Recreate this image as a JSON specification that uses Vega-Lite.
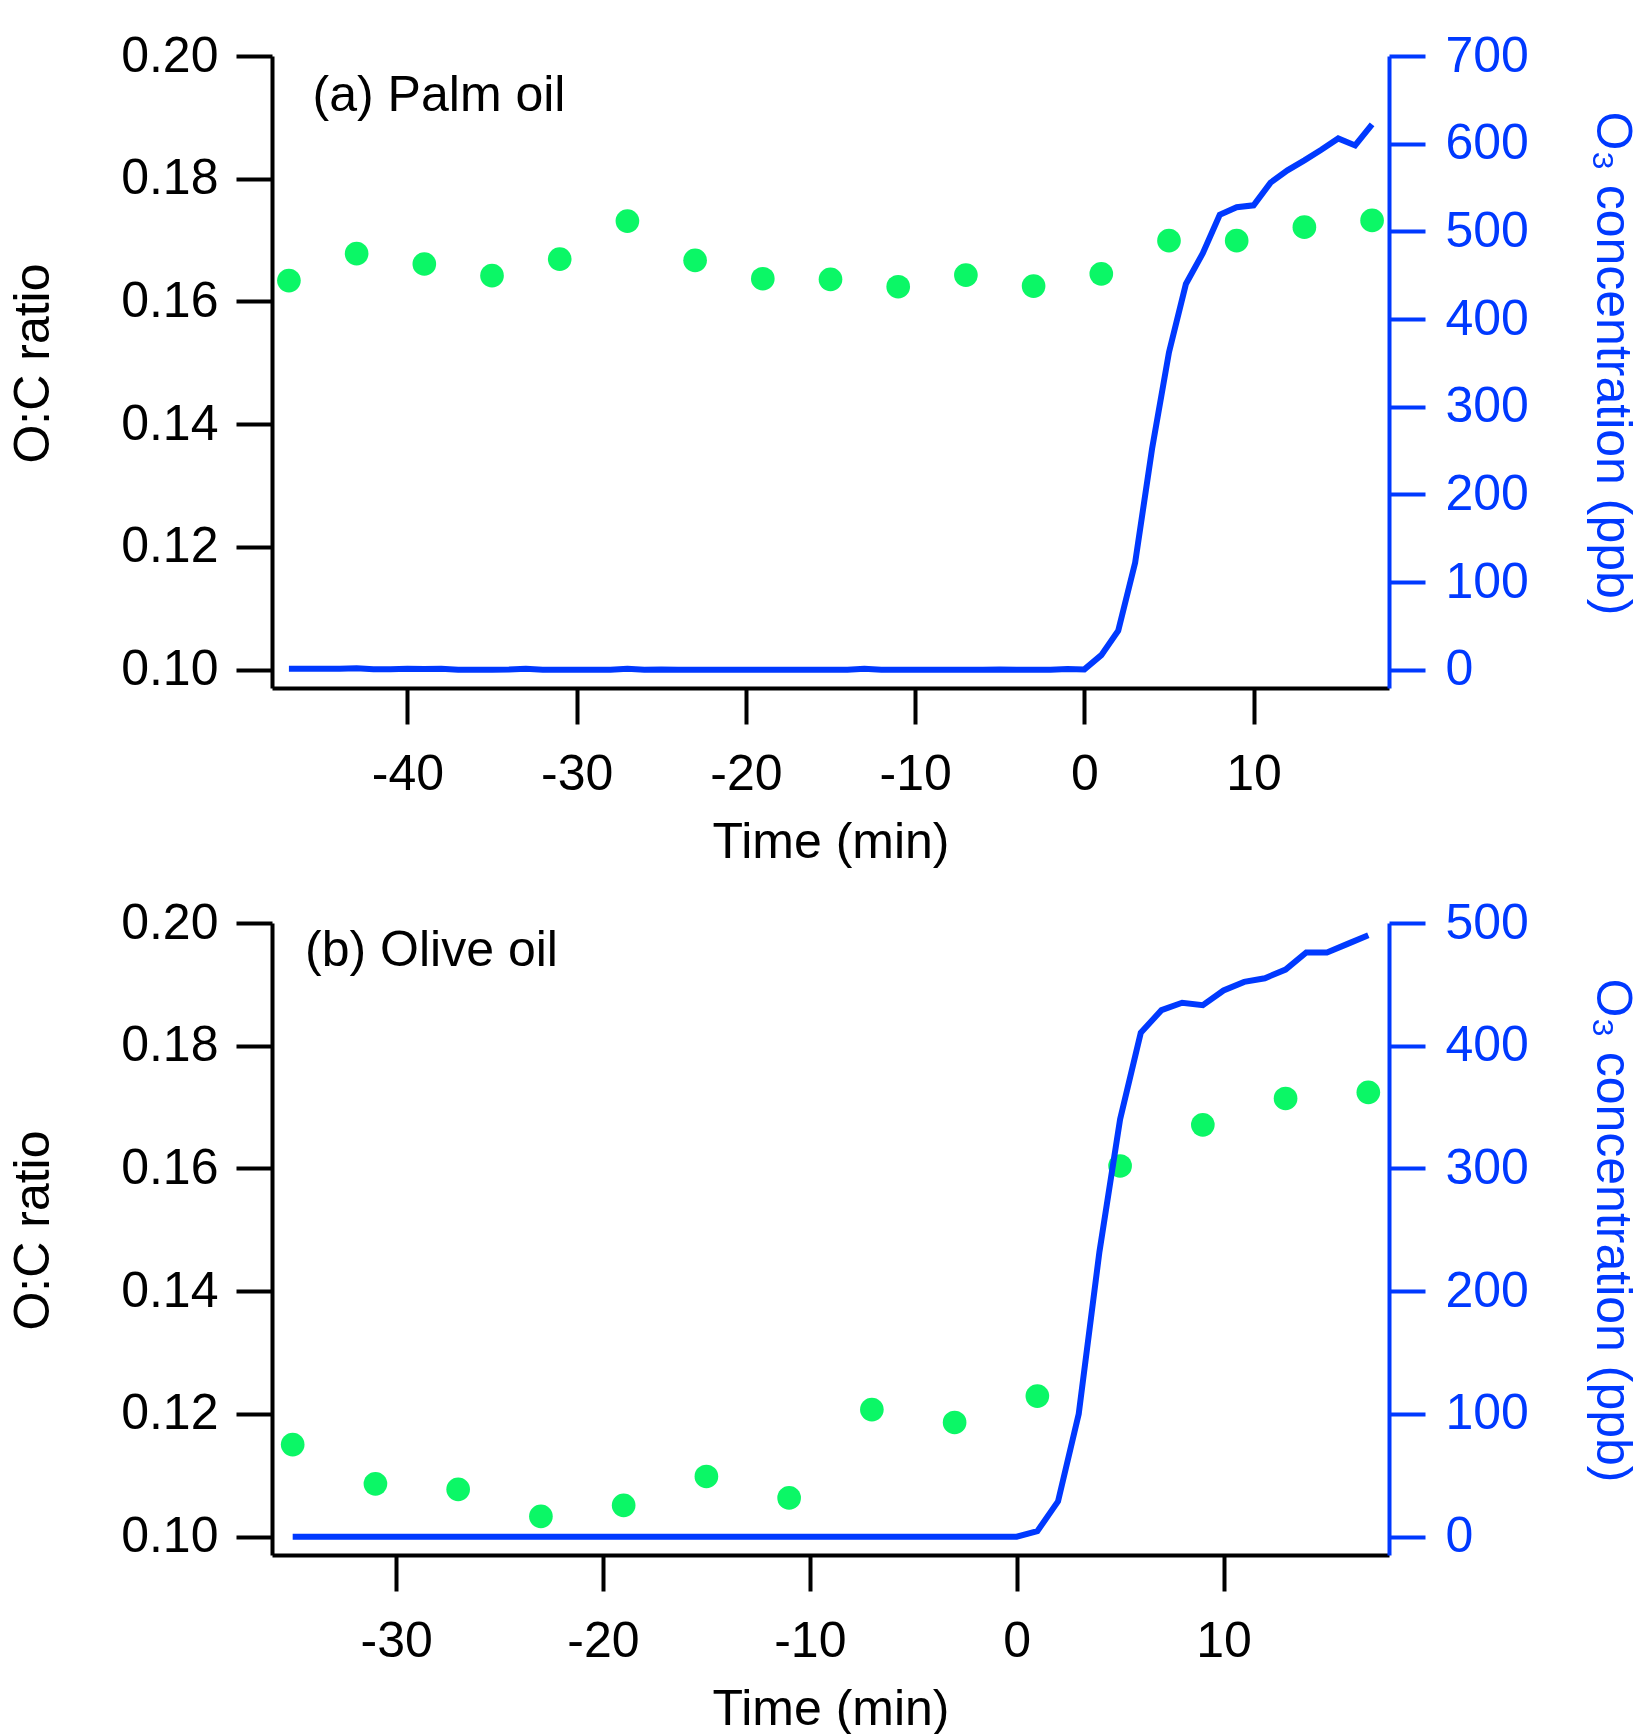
{
  "$schema": "https://vega.github.io/schema/vega-lite/v6.json",
  "description": "O:C ratio (points) and O3 concentration (line) against time for palm oil and olive oil",
  "background": "white",
  "padding": {"left": 8, "top": 31, "right": 0, "bottom": 0},
  "spacing": 235,
  "bounds": "flush",
  "datasets": {
    "oc_palm": [
      {"time": -47, "oc": 0.1634}, {"time": -43, "oc": 0.1678}, {"time": -39, "oc": 0.1661},
      {"time": -35, "oc": 0.1642}, {"time": -31, "oc": 0.1669}, {"time": -27, "oc": 0.1731},
      {"time": -23, "oc": 0.1667}, {"time": -19, "oc": 0.1637}, {"time": -15, "oc": 0.1636},
      {"time": -11, "oc": 0.1624}, {"time": -7, "oc": 0.1643}, {"time": -3, "oc": 0.1625},
      {"time": 1, "oc": 0.1645}, {"time": 5, "oc": 0.1699}, {"time": 9, "oc": 0.1699},
      {"time": 13, "oc": 0.1721}, {"time": 17, "oc": 0.1732}
    ],
    "o3_palm": [
      {"time": -47, "o3": 1}, {"time": -46, "o3": 1}, {"time": -45, "o3": 1}, {"time": -44, "o3": 1},
      {"time": -43, "o3": 1.5}, {"time": -42, "o3": 0.6}, {"time": -41, "o3": 0.6}, {"time": -40, "o3": 1},
      {"time": -39, "o3": 0.8}, {"time": -38, "o3": 1}, {"time": -37, "o3": 0}, {"time": -36, "o3": 0},
      {"time": -35, "o3": 0}, {"time": -34, "o3": 0.2}, {"time": -33, "o3": 1}, {"time": -32, "o3": 0},
      {"time": -31, "o3": 0}, {"time": -30, "o3": 0}, {"time": -29, "o3": 0}, {"time": -28, "o3": 0},
      {"time": -27, "o3": 1}, {"time": -26, "o3": 0}, {"time": -25, "o3": 0.3}, {"time": -24, "o3": 0},
      {"time": -23, "o3": 0}, {"time": -22, "o3": 0}, {"time": -21, "o3": 0}, {"time": -20, "o3": 0},
      {"time": -19, "o3": 0}, {"time": -18, "o3": 0}, {"time": -17, "o3": 0}, {"time": -16, "o3": 0},
      {"time": -15, "o3": 0}, {"time": -14, "o3": 0}, {"time": -13, "o3": 1}, {"time": -12, "o3": 0},
      {"time": -11, "o3": 0}, {"time": -10, "o3": 0}, {"time": -9, "o3": 0}, {"time": -8, "o3": 0},
      {"time": -7, "o3": 0}, {"time": -6, "o3": 0}, {"time": -5, "o3": 0.3}, {"time": -4, "o3": 0},
      {"time": -3, "o3": 0}, {"time": -2, "o3": 0}, {"time": -1, "o3": 0.8}, {"time": 0, "o3": 0.3},
      {"time": 1, "o3": 16.6}, {"time": 2, "o3": 44.5}, {"time": 3, "o3": 122}, {"time": 4, "o3": 252},
      {"time": 5, "o3": 362}, {"time": 6, "o3": 440}, {"time": 7, "o3": 475}, {"time": 8, "o3": 519},
      {"time": 9, "o3": 527.5}, {"time": 10, "o3": 529.7}, {"time": 11, "o3": 555.5}, {"time": 12, "o3": 569.6},
      {"time": 13, "o3": 581}, {"time": 14, "o3": 593}, {"time": 15, "o3": 606}, {"time": 16, "o3": 598},
      {"time": 17, "o3": 622}
    ],
    "oc_olive": [
      {"time": -35, "oc": 0.1150}, {"time": -31, "oc": 0.1086}, {"time": -27, "oc": 0.1077},
      {"time": -23, "oc": 0.1033}, {"time": -19, "oc": 0.1051}, {"time": -15, "oc": 0.1098},
      {"time": -11, "oc": 0.1063}, {"time": -7, "oc": 0.1207}, {"time": -3, "oc": 0.1186},
      {"time": 1, "oc": 0.1229}, {"time": 5, "oc": 0.1604}, {"time": 9, "oc": 0.1671},
      {"time": 13, "oc": 0.1714}, {"time": 17, "oc": 0.1724}
    ],
    "o3_olive": [
      {"time": -35, "o3": 0}, {"time": -30, "o3": 0}, {"time": -25, "o3": 0}, {"time": -20, "o3": 0},
      {"time": -15, "o3": 0}, {"time": -10, "o3": 0}, {"time": -5, "o3": 0}, {"time": 0, "o3": 0},
      {"time": 1, "o3": 4.5}, {"time": 2, "o3": 28.8}, {"time": 3, "o3": 100}, {"time": 4, "o3": 232},
      {"time": 5, "o3": 340}, {"time": 6, "o3": 410.6}, {"time": 7, "o3": 429}, {"time": 8, "o3": 435},
      {"time": 9, "o3": 433}, {"time": 10, "o3": 445}, {"time": 11, "o3": 452}, {"time": 12, "o3": 455},
      {"time": 13, "o3": 462}, {"time": 14, "o3": 476}, {"time": 15, "o3": 476}, {"time": 16, "o3": 483},
      {"time": 17, "o3": 490}
    ],
    "label_palm": [{"time": -45.6, "oc": 0.1911, "label": "(a) Palm oil"}],
    "label_olive": [{"time": -34.4, "oc": 0.1930, "label": "(b) Olive oil"}]
  },
  "vconcat": [
    {
      "width": 1117,
      "height": 632,
      "layer": [
        {
          "data": {"name": "oc_palm"},
          "mark": {"type": "circle", "size": 560, "color": "#0BF766", "opacity": 1},
          "encoding": {
            "x": {
              "field": "time", "type": "quantitative",
              "scale": {"domain": [-48, 18], "nice": false, "zero": false},
              "axis": {
                "values": [-40, -30, -20, -10, 0, 10],
                "labelExpr": "toString(datum.value)",
                "title": "Time (min)",
                "labelBaseline": "alphabetic", "labelPadding": 65,
                "titleBaseline": "alphabetic", "titleY": 169
              }
            },
            "y": {
              "field": "oc", "type": "quantitative",
              "scale": {"domain": [0.097, 0.2], "nice": false, "zero": false},
              "axis": {
                "orient": "left",
                "values": [0.1, 0.12, 0.14, 0.16, 0.18, 0.2],
                "format": ".2f",
                "title": "O:C ratio",
                "labelPadding": 18,
                "titleAngle": -90, "titleAlign": "center", "titleBaseline": "alphabetic",
                "titleX": -224, "titleY": 307
              }
            }
          }
        },
        {
          "data": {"name": "label_palm"},
          "mark": {"type": "text", "align": "left", "baseline": "alphabetic", "fontSize": 50, "color": "black"},
          "encoding": {
            "x": {"field": "time", "type": "quantitative", "scale": {"domain": [-48, 18], "nice": false, "zero": false}},
            "y": {"field": "oc", "type": "quantitative", "scale": {"domain": [0.097, 0.2], "nice": false, "zero": false}, "axis": null},
            "text": {"field": "label"}
          }
        },
        {
          "data": {"name": "o3_palm"},
          "mark": {"type": "line", "color": "#0039FF", "strokeWidth": 6},
          "encoding": {
            "x": {"field": "time", "type": "quantitative", "scale": {"domain": [-48, 18], "nice": false, "zero": false}},
            "y": {
              "field": "o3", "type": "quantitative",
              "scale": {"domain": [-20.9, 700], "nice": false, "zero": false},
              "axis": {
                "orient": "right",
                "values": [0, 100, 200, 300, 400, 500, 600, 700],
                "title": "O₃ concentration (ppb)",
                "domainColor": "#0039FF", "tickColor": "#0039FF",
                "labelColor": "#0039FF", "titleColor": "#0039FF",
                "labelPadding": 20,
                "titleAngle": 90, "titleAlign": "center", "titleBaseline": "alphabetic",
                "titleX": 207, "titleY": 307
              }
            }
          }
        }
      ],
      "resolve": {"scale": {"y": "independent"}, "axis": {"y": "independent"}}
    },
    {
      "width": 1117,
      "height": 632,
      "layer": [
        {
          "data": {"name": "oc_olive"},
          "mark": {"type": "circle", "size": 560, "color": "#0BF766", "opacity": 1},
          "encoding": {
            "x": {
              "field": "time", "type": "quantitative",
              "scale": {"domain": [-36, 18], "nice": false, "zero": false},
              "axis": {
                "values": [-30, -20, -10, 0, 10],
                "labelExpr": "toString(datum.value)",
                "title": "Time (min)",
                "labelBaseline": "alphabetic", "labelPadding": 65,
                "titleBaseline": "alphabetic", "titleY": 169
              }
            },
            "y": {
              "field": "oc", "type": "quantitative",
              "scale": {"domain": [0.097, 0.2], "nice": false, "zero": false},
              "axis": {
                "orient": "left",
                "values": [0.1, 0.12, 0.14, 0.16, 0.18, 0.2],
                "format": ".2f",
                "title": "O:C ratio",
                "labelPadding": 18,
                "titleAngle": -90, "titleAlign": "center", "titleBaseline": "alphabetic",
                "titleX": -224, "titleY": 307
              }
            }
          }
        },
        {
          "data": {"name": "label_olive"},
          "mark": {"type": "text", "align": "left", "baseline": "alphabetic", "fontSize": 50, "color": "black"},
          "encoding": {
            "x": {"field": "time", "type": "quantitative", "scale": {"domain": [-36, 18], "nice": false, "zero": false}},
            "y": {"field": "oc", "type": "quantitative", "scale": {"domain": [0.097, 0.2], "nice": false, "zero": false}, "axis": null},
            "text": {"field": "label"}
          }
        },
        {
          "data": {"name": "o3_olive"},
          "mark": {"type": "line", "color": "#0039FF", "strokeWidth": 6},
          "encoding": {
            "x": {"field": "time", "type": "quantitative", "scale": {"domain": [-36, 18], "nice": false, "zero": false}},
            "y": {
              "field": "o3", "type": "quantitative",
              "scale": {"domain": [-14.9, 500], "nice": false, "zero": false},
              "axis": {
                "orient": "right",
                "values": [0, 100, 200, 300, 400, 500],
                "title": "O₃ concentration (ppb)",
                "domainColor": "#0039FF", "tickColor": "#0039FF",
                "labelColor": "#0039FF", "titleColor": "#0039FF",
                "labelPadding": 20,
                "titleAngle": 90, "titleAlign": "center", "titleBaseline": "alphabetic",
                "titleX": 207, "titleY": 307
              }
            }
          }
        }
      ],
      "resolve": {"scale": {"y": "independent"}, "axis": {"y": "independent"}}
    }
  ],
  "config": {
    "view": {"stroke": null},
    "font": "Liberation Sans",
    "text": {"font": "Liberation Sans"},
    "axis": {
      "grid": false,
      "domainColor": "black", "domainWidth": 4,
      "tickColor": "black", "tickWidth": 4, "tickSize": 36,
      "labelFont": "Liberation Sans", "labelFontSize": 50, "labelColor": "black",
      "titleFont": "Liberation Sans", "titleFontSize": 50, "titleFontWeight": "normal", "titleColor": "black",
      "labelOverlap": false, "labelFlush": false
    }
  }
}
